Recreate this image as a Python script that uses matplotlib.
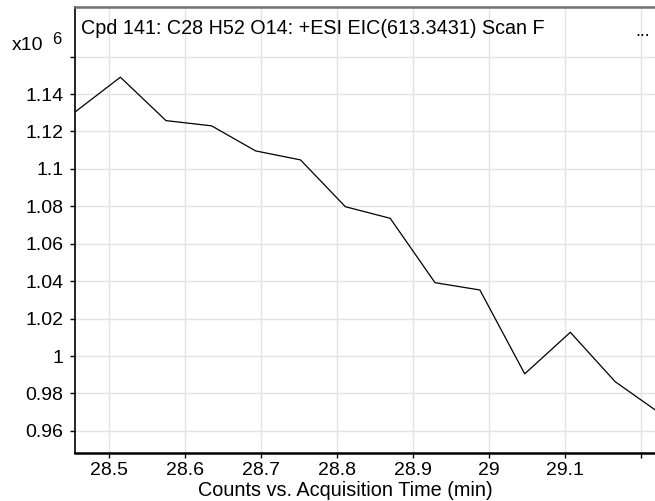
import matplotlib
matplotlib.use("Agg")
import matplotlib.pyplot as plt

plt.rcParams['font.family'] = ['Liberation Sans', 'DejaVu Sans']

# EIC trace (time in min, counts x10^6)
time_min = [28.456, 28.515, 28.575, 28.635, 28.693, 28.752, 28.811,
            28.870, 28.929, 28.988, 29.047, 29.107, 29.166, 29.225]
counts_e6 = [1.1306, 1.1490, 1.1258, 1.1230, 1.1096, 1.1048, 1.0798,
             1.0736, 1.0392, 1.0353, 0.9905, 1.0127, 0.9863, 0.9694]

x_ticks = [28.5, 28.6, 28.7, 28.8, 28.9, 29.0, 29.1, 29.2]
x_labels = ["28.5", "28.6", "28.7", "28.8", "28.9", "29", "29.1", ""]
y_ticks = [0.96, 0.98, 1.00, 1.02, 1.04, 1.06, 1.08, 1.10, 1.12, 1.14, 1.16]
y_labels = ["0.96", "0.98", "1", "1.02", "1.04", "1.06", "1.08", "1.1",
            "1.12", "1.14", ""]

title = "Cpd 141: C28 H52 O14: +ESI EIC(613.3431) Scan F"

fig = plt.figure(figsize=(6.55, 5.01), dpi=100)
ax = fig.add_axes([75 / 655, 1 - 453 / 501, 580 / 655, 446 / 501])

ax.plot(time_min, counts_e6, color="black", lw=0.9)

ax.set_xlim(28.4553, 29.2184)
ax.set_ylim(0.9482, 1.1865)
ax.set_xticks(x_ticks)
ax.set_xticklabels(x_labels)
ax.set_yticks(y_ticks)
ax.set_yticklabels(y_labels)
ax.tick_params(direction="out", length=3.5, width=1, labelsize=14)
ax.tick_params(axis="y", pad=5)
ax.tick_params(axis="x", pad=3)
ax.grid(True, color="#e3e3e3", lw=1)
ax.set_axisbelow(True)

ax.spines["right"].set_visible(False)
ax.spines["top"].set_color("#707070")
ax.spines["top"].set_linewidth(1.8)
ax.spines["left"].set_linewidth(1.2)
ax.spines["bottom"].set_linewidth(1.8)

ax.text(6 / 580, 1 - 22 / 446, title, transform=ax.transAxes,
        fontsize=14.2, va="center", ha="left")
ax.text(568 / 580, 1 - 24 / 446, "...", transform=ax.transAxes,
        fontsize=13, va="center", ha="center")

fig.text(12 / 655, 1 - 45 / 501, "x10", fontsize=14, va="center", ha="left")
fig.text(52 / 655, 1 - 40 / 501, "6", fontsize=12, va="center", ha="left")
fig.text(345 / 655, 1 - 490 / 501, "Counts vs. Acquisition Time (min)",
         fontsize=14.3, va="center", ha="center")

fig.savefig("out.png", dpi=100)
